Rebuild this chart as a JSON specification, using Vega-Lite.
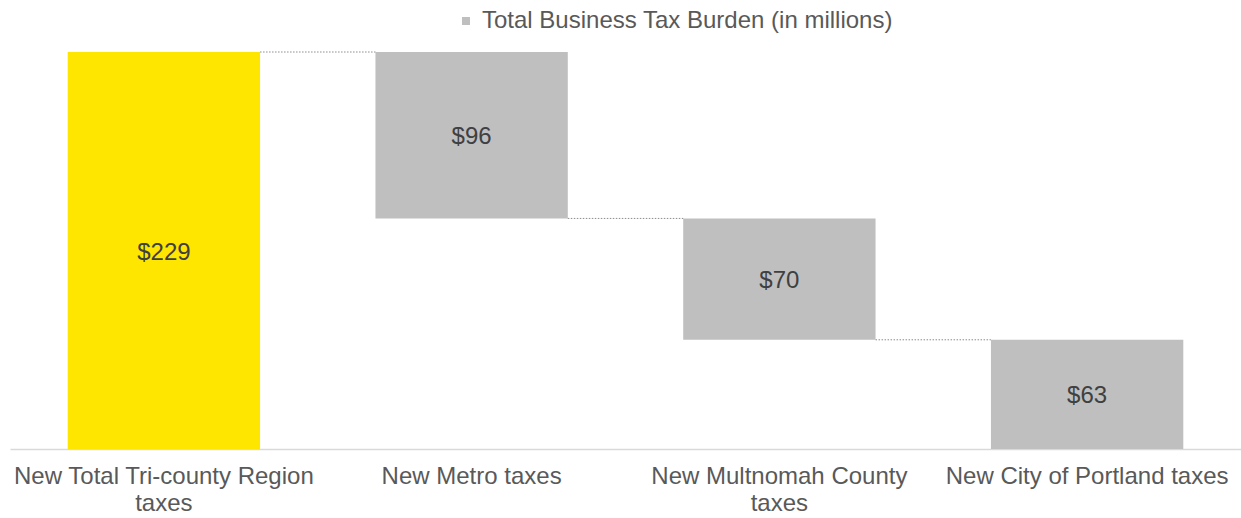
{
  "$schema": "https://vega.github.io/schema/vega-lite/v6.json",
  "width": 1231,
  "height": 397,
  "autosize": {"type": "none"},
  "padding": {"left": 10, "top": 52, "right": 0, "bottom": 69},
  "background": "white",
  "config": {"view": {"stroke": null}, "font": "Liberation Sans"},
  "data": {"values": [
    {"cat": "New Total Tri-county Region taxes", "start": 0, "end": 229, "label": "$229", "series": "Total", "next": "New Metro taxes"},
    {"cat": "New Metro taxes", "start": 229, "end": 133, "label": "$96", "series": "Total Business Tax Burden (in millions)", "next": "New Multnomah County taxes"},
    {"cat": "New Multnomah County taxes", "start": 133, "end": 63, "label": "$70", "series": "Total Business Tax Burden (in millions)", "next": "New City of Portland taxes"},
    {"cat": "New City of Portland taxes", "start": 63, "end": 0, "label": "$63", "series": "Total Business Tax Burden (in millions)", "next": null}
  ]},
  "encoding": {
    "x": {
      "field": "cat", "type": "nominal", "sort": null,
      "scale": {"paddingInner": 0.375, "paddingOuter": 0.1875},
      "axis": {
        "title": null, "labelAngle": 0, "ticks": false,
        "domainColor": "#d9d9d9", "domainWidth": 1.5,
        "labelFontSize": 24, "labelColor": "#595959", "labelPadding": 15,
        "labelLineHeight": 27, "labelLimit": 500,
        "labelExpr": "datum.label == 'New Total Tri-county Region taxes' ? ['New Total Tri-county Region', 'taxes'] : datum.label == 'New Multnomah County taxes' ? ['New Multnomah County', 'taxes'] : datum.label"
      }
    }
  },
  "layer": [
    {
      "mark": {"type": "bar"},
      "encoding": {
        "y": {"field": "start", "type": "quantitative", "scale": {"domain": [0, 229], "nice": false}, "axis": null},
        "y2": {"field": "end"},
        "color": {
          "field": "series", "type": "nominal",
          "scale": {"domain": ["Total", "Total Business Tax Burden (in millions)"], "range": ["#FFE600", "#BFBFBF"]},
          "legend": {
            "title": null, "values": ["Total Business Tax Burden (in millions)"],
            "orient": "none", "legendX": 444, "legendY": -43,
            "symbolType": "square", "symbolSize": 64, "symbolStrokeWidth": 0,
            "labelFontSize": 24, "labelColor": "#595959", "labelLimit": 700, "labelOffset": 4
          }
        }
      }
    },
    {
      "transform": [{"filter": "datum.next != null"}],
      "mark": {"type": "rule", "color": "#8c8c8c", "strokeDash": [1.5, 1.5], "strokeWidth": 1},
      "encoding": {
        "x": {"field": "cat", "type": "nominal", "sort": null, "bandPosition": 1},
        "x2": {"field": "next", "bandPosition": 0},
        "y": {"field": "end", "type": "quantitative", "scale": {"domain": [0, 229], "nice": false}, "axis": null}
      }
    },
    {
      "transform": [{"calculate": "(datum.start + datum.end) / 2", "as": "mid"}],
      "mark": {"type": "text", "fontSize": 24, "color": "#404040", "baseline": "middle", "dy": 2},
      "encoding": {
        "y": {"field": "mid", "type": "quantitative", "scale": {"domain": [0, 229], "nice": false}, "axis": null},
        "text": {"field": "label"}
      }
    }
  ]
}
